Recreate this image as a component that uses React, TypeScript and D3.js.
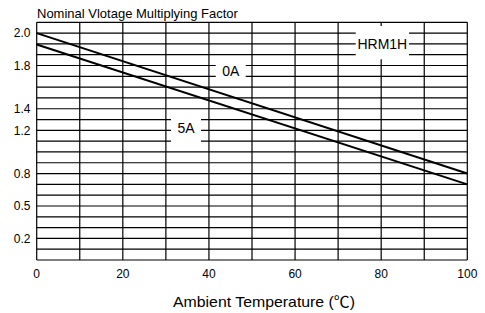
import * as d3 from "d3";

// x axis (ambient temperature, °C)
const xTicks = [0, 20, 40, 60, 80, 100];
const xGrid = [0, 10, 20, 30, 40, 50, 60, 70, 80, 90, 100];

// y axis: the printed labels sit on irregular grid rows (row 0 = bottom frame, 22 = top frame)
const yTickValues = [0.2, 0.5, 0.8, 1.2, 1.4, 1.8, 2.0];
const yTickRows = [2, 5, 8, 12, 14, 18, 21];
const gridRows = d3.range(0, 23);

// curves: multiplying factor vs temperature
const temps = [0, 100];
const factor0A = [2.0, 0.8];
const factor5A = [1.93, 0.7];

const curves = [
  { name: "0A", values: factor0A, label: { x: 230.7, y: 71, w: 30, h: 25 } },
  { name: "5A", values: factor5A, label: { x: 186, y: 128, w: 30, h: 32 } },
];

export default function App() {
  const width = 485;
  const height = 313;
  const left = 36.7;
  const right = 467.3;
  const top = 22.3;
  const bottom = 260;
  const font = "'Liberation Sans', Arial, sans-serif";

  const x = d3.scaleLinear().domain([0, 100]).range([left, right]);
  const row = d3.scaleLinear().domain([0, 22]).range([bottom, top]);
  const y = d3
    .scaleLinear()
    .domain(yTickValues)
    .range(yTickRows.map((r) => row(r)));

  const line = d3
    .line<number>()
    .x((_, i) => x(temps[i]))
    .y((d) => y(d));

  return (
    <svg
      width={width}
      height={height}
      style={{ position: "absolute", left: 0, top: 0, background: "#fff" }}
      fontFamily={font}
    >
      {/* grid */}
      <g stroke="#000" strokeWidth={1.2}>
        {gridRows.map((r) => (
          <line key={"h" + r} x1={left} x2={right} y1={row(r)} y2={row(r)} />
        ))}
        {xGrid.map((t) => (
          <line key={"v" + t} x1={x(t)} x2={x(t)} y1={top} y2={bottom} />
        ))}
      </g>

      {/* curves */}
      <g fill="none" stroke="#000" strokeWidth={2}>
        {curves.map((c) => (
          <path key={c.name} d={line(c.values)!} />
        ))}
      </g>

      {/* labels with white boxes */}
      {curves.map((c) => (
        <g key={"l" + c.name}>
          <rect
            x={c.label.x - c.label.w / 2}
            y={c.label.y - c.label.h / 2}
            width={c.label.w}
            height={c.label.h}
            fill="#fff"
          />
          <text
            x={c.label.x}
            y={c.label.y}
            dy="0.35em"
            textAnchor="middle"
            fontSize={14}
          >
            {c.name}
          </text>
        </g>
      ))}
      <rect x={355.7} y={26} width={53.3} height={33.3} fill="#fff" />
      <text x={382.3} y={44} dy="0.35em" textAnchor="middle" fontSize={14}>
        HRM1H
      </text>

      {/* y tick labels */}
      <g fontSize={12} textAnchor="end">
        {yTickValues.map((v) => (
          <text key={v} x={30.5} y={y(v)} dy="0.35em">
            {v.toFixed(1)}
          </text>
        ))}
      </g>

      {/* x tick labels */}
      <g fontSize={12} textAnchor="middle">
        {xTicks.map((t) => (
          <text key={t} x={x(t)} y={278.3}>
            {t}
          </text>
        ))}
      </g>

      <text x={37} y={18} fontSize={13}>
        Nominal Vlotage Multiplying Factor
      </text>
      <text
        x={173}
        y={306.5}
        fontSize={15}
        textLength={182}
        lengthAdjust="spacingAndGlyphs"
      >
        Ambient Temperature (
        <tspan fontFamily="'Noto Sans CJK SC', sans-serif">℃</tspan>)
      </text>
    </svg>
  );
}
